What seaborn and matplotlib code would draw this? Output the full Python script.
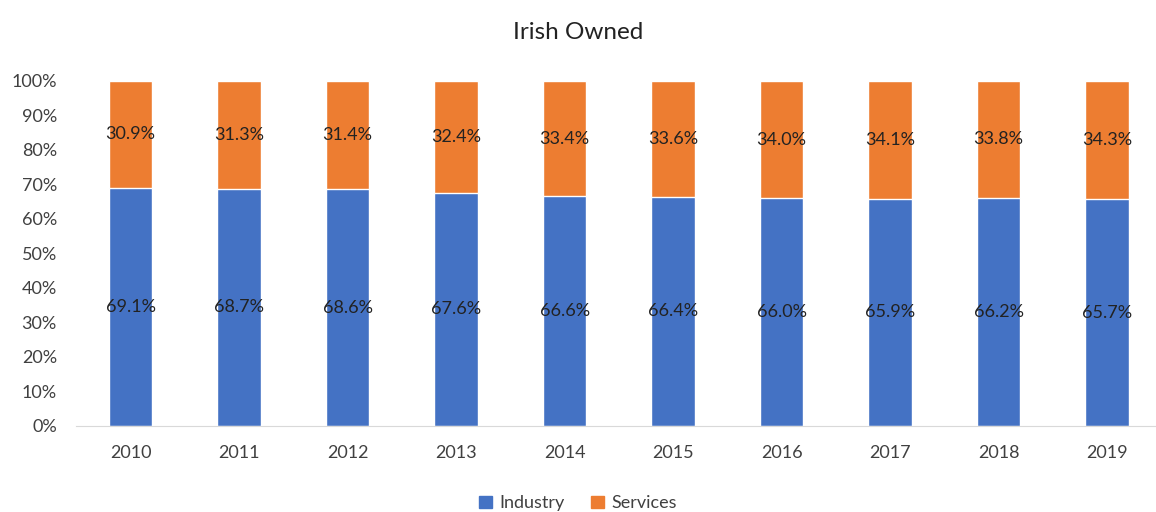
import pandas as pd
import matplotlib.pyplot as plt
import seaborn as sns
from matplotlib.patches import Patch
from matplotlib.ticker import PercentFormatter

# --- data ---
years = ["2010", "2011", "2012", "2013", "2014", "2015", "2016", "2017", "2018", "2019"]
industry = [69.1, 68.7, 68.6, 67.6, 66.6, 66.4, 66.0, 65.9, 66.2, 65.7]
services = [30.9, 31.3, 31.4, 32.4, 33.4, 33.6, 34.0, 34.1, 33.8, 34.3]

df = pd.DataFrame({"year": years, "Industry": industry, "Services": services})
df["total"] = df["Industry"] + df["Services"]

blue = "#4472C4"
orange = "#ED7D31"

sns.set_style("white")
plt.rcParams["font.family"] = ["Lato", "DejaVu Sans"]

fig = plt.figure(figsize=(11.56, 5.12), dpi=100)
ax = fig.add_axes([0.066, 0.168, 0.934, 0.674])

# stacked bars: total (orange) behind, industry (blue) in front
sns.barplot(data=df, x="year", y="total", color=orange, width=0.4, saturation=1, ax=ax)
sns.barplot(data=df, x="year", y="Industry", color=blue, width=0.4, saturation=1, ax=ax)

for i, (ind, srv) in enumerate(zip(industry, services)):
    ax.text(i, ind / 2, f"{ind:.1f}%", ha="center", va="center", fontsize=13, color="#222222")
    ax.text(i, ind + srv / 2, f"{srv:.1f}%", ha="center", va="center", fontsize=13, color="#222222")

ax.set_ylim(0, 100)
ax.set_xlim(-0.5, 9.45)
ax.set_yticks(range(0, 101, 10))
ax.yaxis.set_major_formatter(PercentFormatter(decimals=0))
ax.set_xlabel("")
ax.set_ylabel("")
ax.tick_params(axis="both", labelsize=13, colors="#404040", length=0)
ax.tick_params(axis="y", pad=14)
ax.tick_params(axis="x", pad=14)
for side in ["top", "right", "left"]:
    ax.spines[side].set_visible(False)
ax.spines["bottom"].set_color("#D9D9D9")

fig.text(0.5, 0.937, "Irish Owned", ha="center", va="center", fontsize=17.5, color="#222222")

handles = [Patch(color=blue, label="Industry"), Patch(color=orange, label="Services")]
fig.legend(handles=handles, loc="center", bbox_to_anchor=(0.5, 0.017), ncol=2, frameon=False,
           fontsize=13, handlelength=0.7, handleheight=0.7, columnspacing=1.5, handletextpad=0.4,
           labelcolor="#404040")

fig.savefig("out.png", dpi=100)
